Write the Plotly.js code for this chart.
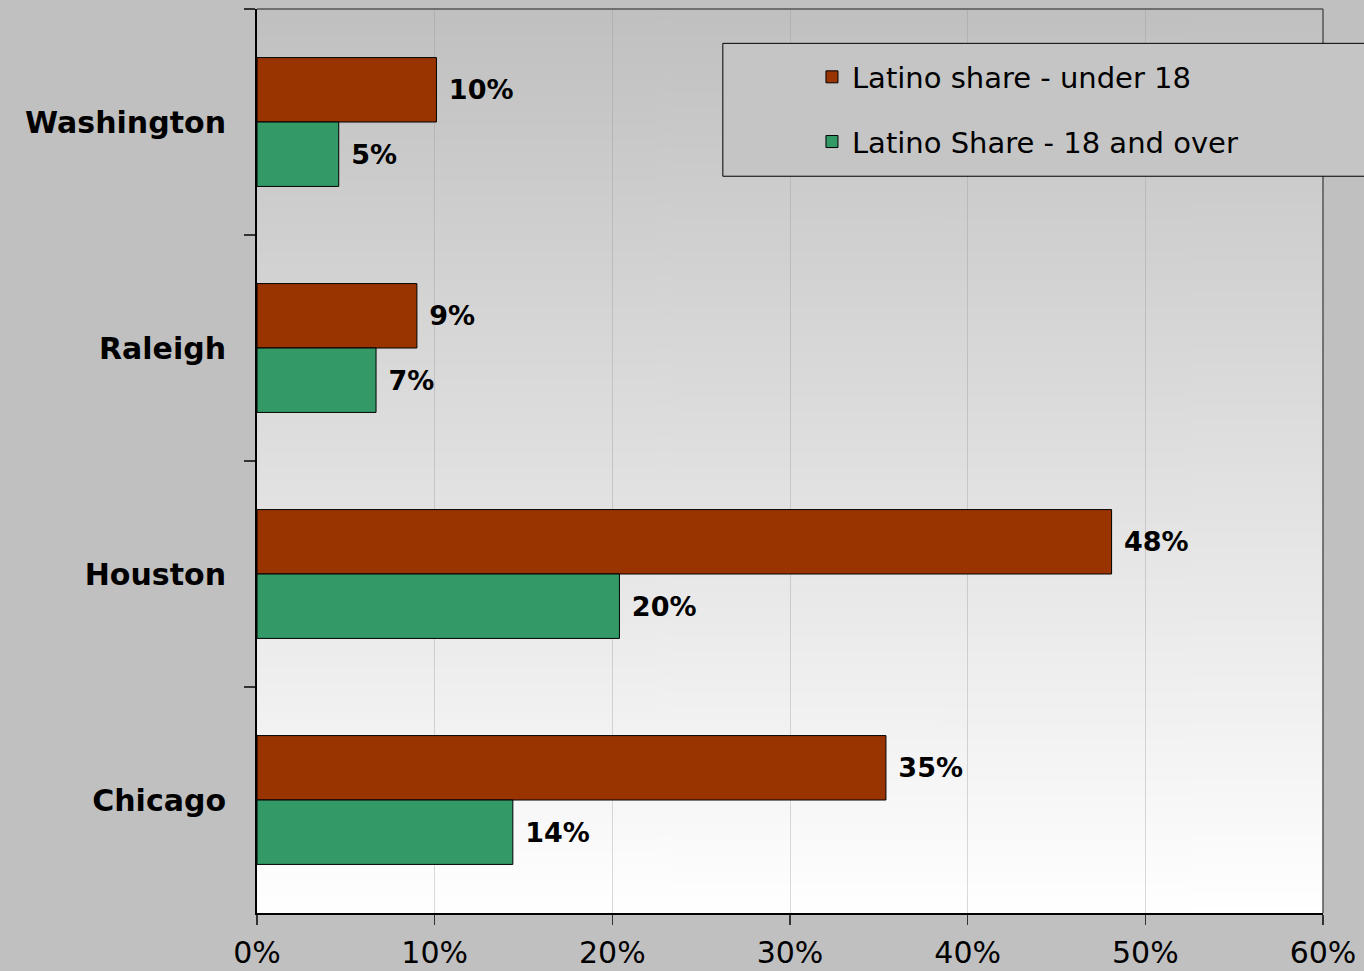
<!DOCTYPE html>
<html>
<head>
<meta charset="utf-8">
<script src="https://cdn.plot.ly/plotly-3.0.1.min.js"></script>
<style>
  html, body { margin: 0; padding: 0; background: #c0c0c0; }
  #chart { width: 1364px; height: 971px; }
</style>
</head>
<body>
<div id="chart"></div>
<script>
// ---- data ----
const cities = ["Washington", "Raleigh", "Houston", "Chicago"];
const under18 = [0.101, 0.090, 0.481, 0.354];
const adults = [0.046, 0.067, 0.204, 0.144];
const seriesNames = ["Latino share - under 18", "Latino Share - 18 and over"];
const xTickVals = [0, 0.1, 0.2, 0.3, 0.4, 0.5, 0.6];
const xTickText = ["0%", "10%", "20%", "30%", "40%", "50%", "60%"];

// gradient background for plot area
function gradientURL() {
  const c = document.createElement("canvas");
  c.width = 4; c.height = 512;
  const ctx = c.getContext("2d");
  const g = ctx.createLinearGradient(0, 0, 0, 512);
  g.addColorStop(0, "#c0c0c0");
  g.addColorStop(1, "#ffffff");
  ctx.fillStyle = g;
  ctx.fillRect(0, 0, 4, 512);
  return c.toDataURL("image/png");
}

const labelFont = { family: "DejaVu Sans", size: 27, color: "#000000", weight: "bold" };

const traces = [
  {
    type: "bar", orientation: "h",
    name: seriesNames[0], legendgroup: "a",
    y: cities, x: under18,
    marker: { color: "#993300", line: { color: "#000000", width: 1 } },
    texttemplate: "\u00a0%{x:.0%}", textposition: "outside",
    textfont: labelFont, constraintext: "none", cliponaxis: false,
    hoverinfo: "skip"
  },
  {
    type: "bar", orientation: "h",
    name: seriesNames[1], legendgroup: "b",
    y: cities, x: adults,
    marker: { color: "#339966", line: { color: "#000000", width: 1 } },
    texttemplate: "\u00a0%{x:.0%}", textposition: "outside",
    textfont: labelFont, constraintext: "none", cliponaxis: false,
    hoverinfo: "skip"
  }
];

const layout = {
  width: 1364, height: 971,
  margin: { l: 257, r: 41, t: 9, b: 58, pad: 0 },
  paper_bgcolor: "#c0c0c0",
  plot_bgcolor: "#c0c0c0",
  font: { family: "DejaVu Sans", color: "#000000" },
  barmode: "group",
  bargap: 0.43,
  bargroupgap: 0,
  showlegend: true,
  legend: {
    x: 0.5206, y: 0.953, xanchor: "left", yanchor: "top",
    bgcolor: "rgba(0,0,0,0)", borderwidth: 0,
    font: { family: "DejaVu Sans", size: 29, color: "#000000" },
    traceorder: "grouped", tracegroupgap: 24
  },
  xaxis: {
    range: [0, 0.6],
    tickvals: xTickVals, ticktext: xTickText,
    ticks: "outside", ticklen: 10, tickwidth: 1.5, tickcolor: "#333333",
    ticklabelstandoff: 2,
    showline: true, linecolor: "#000000", linewidth: 1.5,
    showgrid: true, gridcolor: "rgba(150,150,150,0.35)", gridwidth: 1,
    zeroline: false,
    tickfont: { family: "DejaVu Sans", size: 30, color: "#000000" },
    fixedrange: true
  },
  yaxis: {
    type: "category",
    autorange: "reversed",
    tickson: "boundaries",
    ticks: "outside", ticklen: 11, tickwidth: 1.5, tickcolor: "#333333",
    ticklabelstandoff: 23,
    showline: true, linecolor: "#000000", linewidth: 2,
    showgrid: false, zeroline: false,
    tickfont: { family: "DejaVu Sans", size: 30, color: "#000000", weight: "bold" },
    fixedrange: true
  },
  images: [{
    source: gradientURL(),
    xref: "paper", yref: "paper", x: 0, y: 1, sizex: 1, sizey: 1,
    xanchor: "left", yanchor: "top", sizing: "stretch", layer: "below"
  }],
  shapes: [
    // top and right frame of the plot area
    { type: "line", xref: "paper", yref: "paper", x0: 0, x1: 1, y0: 1, y1: 1,
      line: { color: "#555555", width: 1.5 }, layer: "above" },
    { type: "line", xref: "paper", yref: "paper", x0: 1, x1: 1, y0: 0, y1: 1,
      line: { color: "#555555", width: 1.5 }, layer: "above" },
    // legend box
    { type: "rect", xref: "paper", yref: "paper", x0: 0.437, x1: 1.1, y0: 0.815, y1: 0.962,
      fillcolor: "#c5c5c5", line: { color: "#000000", width: 1 }, layer: "above" }
  ]
};

Plotly.newPlot("chart", traces, layout, { staticPlot: true, displayModeBar: false });
</script>
</body>
</html>
